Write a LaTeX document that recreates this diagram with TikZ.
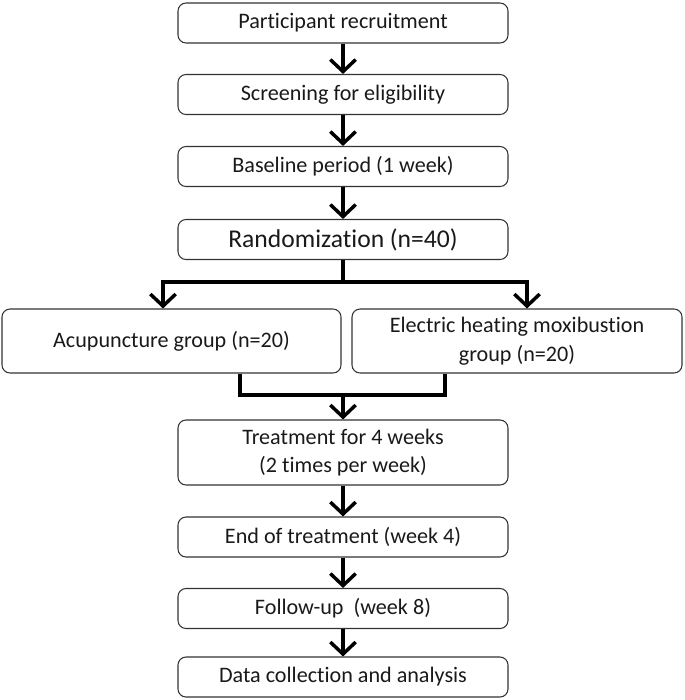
\documentclass[tikz,border=0pt]{standalone}
\usepackage{fontspec}
\setmainfont[Ligatures=NoCommon]{Carlito}
\usepackage{tikz}
\usetikzlibrary{arrows.meta}

\tikzset{
  box/.style={draw=black!80,line width=0.8pt,rounded corners=6pt,
    minimum width=330*0.75pt,minimum height=40*0.75pt,
    align=center,text=black!90,inner sep=0pt,
    font=\fontsize{16.6}{21.5}\selectfont},
  link/.style={line width=3pt,black},
  arr/.style={link,-{Straight Barb[length=9pt,width=19pt,line width=2.6pt]}}
}

\begin{document}
\begin{tikzpicture}[x=0.75pt,y=-0.75pt]
  \useasboundingbox (0,0) rectangle (685,700);

  % этапы
  \node[box] (recruit) at (343,23) {Participant recruitment};
  \node[box] (screen) at (343,94.5) {Screening for eligibility};
  \node[box] (base) at (343,166.5) {Baseline period (1 week)};
  \node[box,font=\fontsize{19.2}{23}\selectfont] (rand) at (343,239.5) {Randomization (n=40)};
  \node[box,minimum width=339*0.75pt,minimum height=64*0.75pt] (acu) at (171.5,341) {Acupuncture group (n=20)};
  \node[box,minimum height=64*0.75pt] (moxa) at (517,341) {Electric heating moxibustion\\group (n=20)};
  \node[box,minimum height=65*0.75pt] (treat) at (343,452.5) {Treatment for 4 weeks\\(2 times per week)};
  \node[box] (end) at (343,537) {End of treatment (week 4)};
  \node[box] (follow) at (343,608.5) {Follow-up~~(week 8)};
  \node[box] (data) at (343,677) {Data collection and analysis};

  % стрелки
  \draw[arr] (recruit) -- (screen);
  \draw[arr] (screen) -- (base);
  \draw[arr] (base) -- (rand);

  \coordinate (jl) at (163,282);
  \coordinate (jr) at (527,282);
  \draw[arr] (rand.south) |- (jl) -- (jl |- acu.north);
  \draw[arr] (rand.south) |- (jr) -- (jr |- moxa.north);

  \coordinate (ml) at (240,395);
  \coordinate (mr) at (445,395);
  \draw[link] (ml |- acu.south) -- (ml) -- (mr) -- (mr |- moxa.south);
  \draw[arr] (treat.north |- ml) -- (treat.north);

  \draw[arr] (treat) -- (end);
  \draw[arr] (end) -- (follow);
  \draw[arr] (follow) -- (data);
\end{tikzpicture}
\end{document}
